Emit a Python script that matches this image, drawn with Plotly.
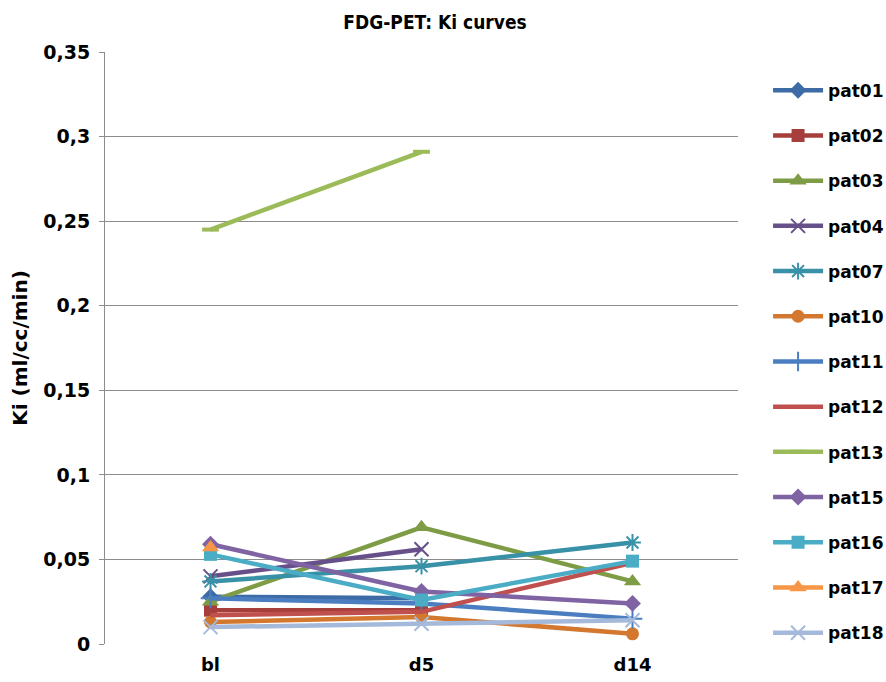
import plotly.graph_objects as go

# Time points of the FDG-PET scans
timepoints = ["bl", "d5", "d14"]

# Ki values (ml/cc/min) per patient; None = no scan at that time point
pat01 = [0.028, 0.027, None]
pat02 = [0.020, 0.020, None]
pat03 = [0.025, 0.069, 0.037]
pat04 = [0.040, 0.056, None]
pat07 = [0.037, 0.046, 0.060]
pat10 = [0.013, 0.016, 0.006]
pat11 = [0.027, 0.024, 0.015]
pat12 = [0.017, 0.019, 0.048]
pat13 = [0.245, 0.291, None]
pat15 = [0.059, 0.031, 0.024]
pat16 = [0.053, 0.026, 0.049]
pat17 = [0.057, None, None]
pat18 = [0.010, 0.012, 0.014]

y_ticks = [0, 0.05, 0.1, 0.15, 0.2, 0.25, 0.3, 0.35]
y_tick_labels = ["0", "0,05", "0,1", "0,15", "0,2", "0,25", "0,3", "0,35"]

series = [
    ("pat01", pat01, "#3D6BA5", "diamond"),
    ("pat02", pat02, "#A63E3B", "square"),
    ("pat03", pat03, "#7E9C46", "triangle-up"),
    ("pat04", pat04, "#67508A", "x-thin"),
    ("pat07", pat07, "#3891A6", "asterisk"),
    ("pat10", pat10, "#D3782E", "circle"),
    ("pat11", pat11, "#4A7EC0", "cross-thin"),
    ("pat12", pat12, "#C0504D", None),
    ("pat13", pat13, "#9BBB59", "line-ew"),
    ("pat15", pat15, "#7F63A3", "diamond"),
    ("pat16", pat16, "#4BACC6", "square"),
    ("pat17", pat17, "#F79646", "triangle-up"),
    ("pat18", pat18, "#A5B9DA", "x-thin"),
]

BOLD = "DejaVu Sans, Arial, sans-serif"
x_pos = list(range(len(timepoints)))

fig = go.Figure()
for name, vals, color, symbol in series:
    thin = symbol in ("x-thin", "cross-thin", "asterisk", "line-ew")
    if symbol is None:
        mode = "lines"
        marker = dict()
    else:
        mode = "lines+markers"
        size = 13
        if thin:
            size = 14
        if symbol == "triangle-up":
            size = 15
        marker = dict(
            symbol=symbol,
            size=size,
            color=color,
            line=dict(color=color, width=2 if thin else 0),
        )
        if symbol == "line-ew":
            marker["line"] = dict(color=color, width=4)
            marker["size"] = 12
    fig.add_trace(go.Scatter(
        x=x_pos, y=vals, name=name, mode=mode,
        line=dict(color=color, width=4.5),
        marker=marker,
        legendgroup=name,
        connectgaps=False,
    ))

fig.update_layout(
    width=886, height=682,
    margin=dict(l=105, r=148, t=52, b=38, autoexpand=False),
    paper_bgcolor="white", plot_bgcolor="white",
    font=dict(family=BOLD, size=16, color="black"),
    title=dict(
        text="<b>FDG-PET: Ki curves</b>",
        font=dict(family="DejaVu Sans Condensed, DejaVu Sans, sans-serif", size=19),
        x=0.491, xanchor="center", y=0.967, yanchor="middle",
    ),
    showlegend=True,
    legend=dict(
        x=1.0475, xanchor="left", y=0.965, yanchor="top",
        font=dict(size=17, family=BOLD, weight="bold"),
        tracegroupgap=20.1,
        bgcolor="rgba(0,0,0,0)",
        itemwidth=50,
    ),
)

fig.update_xaxes(
    range=[-0.5, 2.5],
    tickvals=x_pos, ticktext=timepoints,
    tickfont=dict(size=18, family=BOLD, weight="bold"),
    ticklabelstandoff=8,
    showgrid=False, zeroline=False,
    showline=False, ticks="",
)
fig.update_yaxes(
    range=[0, 0.35],
    tickvals=y_ticks, ticktext=y_tick_labels,
    tickfont=dict(size=19, family=BOLD, weight="bold"),
    ticklabelstandoff=5,
    showgrid=True, gridcolor="#8C8C8C", gridwidth=1,
    zeroline=False,
    showline=True, linecolor="#8C8C8C", linewidth=1,
    ticks="outside", ticklen=5, tickcolor="#8C8C8C",
    title=dict(text="<b>Ki (ml/cc/min)</b>", font=dict(size=20, family=BOLD), standoff=10),
)

fig.write_html("out.html")
